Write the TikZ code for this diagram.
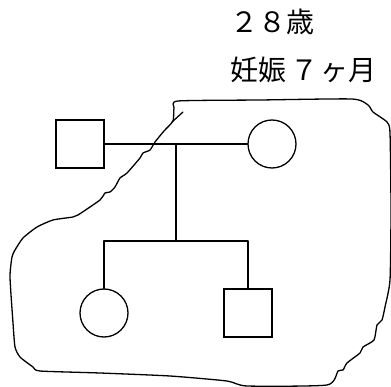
\documentclass[tikz,border=0pt]{standalone}
\usepackage{fontspec}
\newfontfamily\jpfont{Noto Sans CJK JP}
\begin{document}
\begin{tikzpicture}[x=1pt,y=-1pt,
  line/.style={line width=1.3pt, line join=round, line cap=round},
  malebox/.style={draw, line width=1.3pt, rectangle, minimum size=48pt, inner sep=0pt},
  femalecirc/.style={draw, line width=1.3pt, circle, minimum size=48pt, inner sep=0pt},
  label/.style={font=\jpfont\fontsize{28}{32}\selectfont, anchor=base west, inner sep=0pt}]
\useasboundingbox (0,0) rectangle (391,387);
% texts
\node[label] (age) at (230,33) {２８歳};
\node[label] (preg) at (230,81) {妊娠\hspace{4pt}７\hspace{2pt}ヶ月};
% pedigree
\node[malebox] (f) at (80,144) {};
\node[femalecirc] (m) at (272,144) {};
\node[femalecirc] (d) at (104,313) {};
\node[malebox] (s) at (248,313) {};
\coordinate (mid) at (176,144);
\coordinate (sib) at (176,241);
\draw[line] (f.east) -- (m.west);
\draw[line] (mid) -- (sib);
\draw[line] (d.north) |- (sib) -| (s.north);
% freehand enclosure
\draw[line] plot[smooth cycle, tension=0.35] coordinates {
 (173,121) (174,108) (178,101) (260,100) (352,99) (368,105) (373,112) (387,122)
 (390,133) (391,210) (390,280) (385,307) (382,320) (377,325) (374,340) (363,347)
 (360,353) (347,363) (343,370) (338,371) (327,385) (247,386) (227,381) (170,376)
 (100,373) (40,371) (33,367) (20,357) (15,347) (13,323) (10,277) (12,257) (15,250)
 (23,238) (37,227) (53,220) (73,217) (78,215) (100,200) (105,193) (110,192)
 (115,187) (120,178) (127,173) (140,158) (143,153) (150,150) (155,142) (164,131)};
\coordinate (tickend) at (183,112);
\coordinate (tickstart) at (172,122);
\draw[line] (tickstart) -- (tickend);
\end{tikzpicture}
\end{document}
